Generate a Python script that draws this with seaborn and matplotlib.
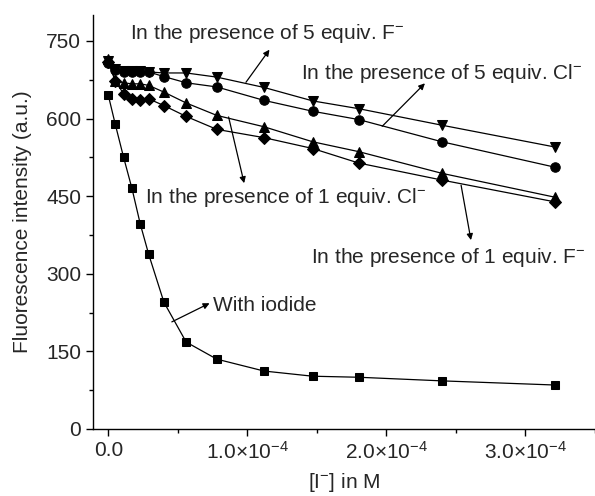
import numpy as np
import pandas as pd
import matplotlib
matplotlib.use('Agg')
import matplotlib.pyplot as plt
import seaborn as sns

# data (x in M, y in a.u.)
conc = [0, 0.05e-4, 0.11e-4, 0.17e-4, 0.23e-4, 0.29e-4, 0.40e-4, 0.56e-4,
        0.78e-4, 1.12e-4, 1.47e-4, 1.80e-4, 2.40e-4, 3.21e-4]
iodide = [645, 589, 525, 465, 396, 338, 245, 168, 135, 112, 102, 100, 93, 85]
f_1eq = [710, 672, 648, 638, 635, 638, 625, 604, 579, 563, 542, 514, 481, 439]
cl_1eq = [715, 673, 669, 667, 667, 664, 651, 630, 606, 584, 555, 536, 494, 448]
cl_5eq = [708, 693, 690, 690, 690, 690, 681, 669, 661, 635, 614, 598, 555, 506]
f_5eq = [712, 695, 692, 691, 691, 690, 688, 688, 680, 660, 634, 619, 587, 545]

series_names = ['iodide', 'F 1 eq', 'Cl 1 eq', 'Cl 5 eq', 'F 5 eq']
series_markers = {'iodide': 's', 'F 1 eq': 'D', 'Cl 1 eq': '^', 'Cl 5 eq': 'o', 'F 5 eq': 'v'}
marker_sizes = {'iodide': 6.3, 'F 1 eq': 6.3, 'Cl 1 eq': 7.5, 'Cl 5 eq': 6.8, 'F 5 eq': 7.5}

x_ticks = [0, 1e-4, 2e-4, 3e-4]
x_tick_labels = ['0.0', r'1.0$\times$10$^{-4}$', r'2.0$\times$10$^{-4}$', r'3.0$\times$10$^{-4}$']
y_ticks = [0, 150, 300, 450, 600, 750]

df = pd.DataFrame({
    'conc': conc * 5,
    'intensity': iodide + f_1eq + cl_1eq + cl_5eq + f_5eq,
    'series': np.repeat(series_names, len(conc)),
})

sns.set_style('ticks')
plt.rcParams['font.family'] = ['Liberation Sans', 'DejaVu Sans']
plt.rcParams['mathtext.fontset'] = 'custom'
plt.rcParams['mathtext.rm'] = 'Liberation Sans'
plt.rcParams['mathtext.it'] = 'Liberation Sans:italic'
plt.rcParams['mathtext.bf'] = 'Liberation Sans:bold'
plt.rcParams['font.size'] = 15

fig = plt.figure(figsize=(5.95, 4.96), dpi=100)
ax = fig.add_axes([93 / 595, 1 - 429 / 496, 502 / 595, 414 / 496])

# one call per series so each marker gets its own size
for name in series_names:
    sub = df[df['series'] == name]
    sns.lineplot(data=sub, x='conc', y='intensity', marker=series_markers[name],
                 color='black', estimator=None, sort=False, legend=False, ax=ax,
                 linewidth=0.9, markersize=marker_sizes[name],
                 markeredgecolor='black')

ax.set_xlim(-1.1e-5, 3.46e-4)
ax.set_ylim(0, 800)
ax.set_xticks(x_ticks)
ax.set_xticklabels(x_tick_labels)
ax.set_xticks([0.5e-4, 1.5e-4, 2.5e-4, 3.5e-4], minor=True)
ax.set_yticks(y_ticks)
ax.set_yticks([75, 225, 375, 525, 675], minor=True)
ax.tick_params(which='major', direction='out', length=5, width=1, labelsize=15, color='black')
ax.tick_params(which='minor', direction='out', length=3, width=1, color='black')
for s in ['top', 'right']:
    ax.spines[s].set_visible(False)
for s in ['left', 'bottom']:
    ax.spines[s].set_linewidth(1)
    ax.spines[s].set_color('black')

ax.set_xlabel(r'[I$^{-}$] in M', fontsize=15, labelpad=6)
ax.set_ylabel('Fluorescence intensity (a.u.)', fontsize=15, labelpad=10)

arrow = dict(arrowstyle='-|>', color='black', lw=0.9, mutation_scale=9, shrinkA=0, shrinkB=0)
ax.text(0.154e-4, 764, r'In the presence of 5 equiv. F$^{-}$', va='center', fontsize=15)
ax.annotate('', xy=(1.159e-4, 733), xytext=(0.99e-4, 670), arrowprops=arrow)
ax.text(1.386e-4, 687, r'In the presence of 5 equiv. Cl$^{-}$', va='center', fontsize=15)
ax.annotate('', xy=(2.277e-4, 668), xytext=(1.97e-4, 585), arrowprops=arrow)
ax.text(0.267e-4, 448, r'In the presence of 1 equiv. Cl$^{-}$', va='center', fontsize=15)
ax.annotate('', xy=(0.977e-4, 475), xytext=(0.865e-4, 603), arrowprops=arrow)
ax.text(1.459e-4, 332, r'In the presence of 1 equiv. F$^{-}$', va='center', fontsize=15)
ax.annotate('', xy=(2.608e-4, 365), xytext=(2.537e-4, 471), arrowprops=arrow)
ax.text(0.75e-4, 239, 'With iodide', va='center', fontsize=15)
ax.annotate('', xy=(0.728e-4, 243), xytext=(0.457e-4, 207), arrowprops=arrow)

fig.savefig('out.png', dpi=100)
